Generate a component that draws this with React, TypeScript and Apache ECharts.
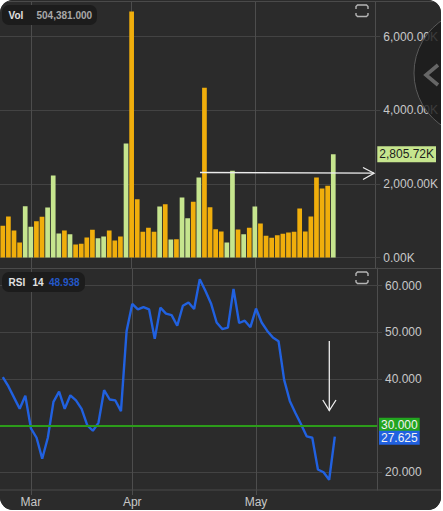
import React, { useEffect, useRef } from "react";
import * as echarts from "echarts";

const monthTicks: Record<number, string> = { 5: "Mar", 23: "Apr", 45: "May" };
const slotCount = 67;
const categories = Array.from({ length: slotCount }, (_, i) => monthTicks[i] ?? `d${i}`);
const volumes = [
  860, 1114, 733, 408, 1395, 833, 987, 1105, 1359, 2228,
  652, 733, 634, 353, 371, 543, 752, 525, 570, 733,
  462, 570, 3098, 6685, 1585, 697, 806, 697, 1386, 1449,
  489, 498, 1630, 1069, 1513, 2174, 4610, 1368, 770, 706,
  408, 2355, 761, 634, 806, 1386, 924, 589, 534, 607,
  643, 679, 697, 1331, 706, 1114, 2174, 1875, 1947, 2805.72,
];
const upBars = [4, 5, 8, 9, 10, 12, 17, 18, 22, 28, 30, 32, 33, 35, 40, 41, 43, 45, 59];
const rsi = [
  40.4, 38.4, 36, 33.6, 36.4, 29.4, 27.4, 22.9, 27.4, 35.1,
  37.3, 33.6, 36.5, 35.4, 33.6, 30.1, 28.9, 30.6, 37.6, 35.6,
  35.4, 33.1, 50.3, 56.1, 54.9, 55.4, 54.9, 48.6, 55.3, 54,
  53.7, 51.4, 55.7, 56.4, 55, 61.4, 58.9, 56.2, 52.1, 50.7,
  51, 59.3, 52, 52.5, 51.1, 55.1, 52.1, 50.3, 48.9, 48.1,
  39.8, 35.3, 32.7, 30.3, 27.7, 27.4, 20.6, 20, 18.4, 27.625,
];
const volTicks = [0, 2000, 4000, 6000];
const rsiTicks = [20, 40, 50, 60];
const rsiLevel = 30;
const lastVolume = 2805.72;
const lastRsi = 27.625;

const FONT = '"Liberation Sans", Arial, sans-serif';
const BG = "#2b2b2b";
const GRID = "#434343";
const VGRID = "#4d4d4d";
const ORANGE = "#f0ae0c";
const GREEN = "#c6e58e";
const BLUE = "#2161e0";
const CLEAR = "rgba(0,0,0,0)";
const LEVEL_GREEN = "#2c9c1a";

function fsIcon(x: number, y: number) {
  const lines = [
    [[x, y + 4], [x, y + 1.5], [x + 1.5, y], [x + 10.5, y], [x + 12, y + 1.5], [x + 12, y + 4]],
    [[x, y + 8], [x, y + 10], [x + 1.5, y + 11.5], [x + 10.5, y + 11.5], [x + 12, y + 10], [x + 12, y + 8]],
  ];
  return lines.map((points) => ({
    type: "polyline",
    z: 20,
    silent: true,
    shape: { points },
    style: { stroke: "#b5b5b5", lineWidth: 1.4, fill: "none" },
  }));
}

function line(x1: number, y1: number, x2: number, y2: number, stroke: string, lineWidth: number, z = 5) {
  return { type: "line", z, silent: true, shape: { x1, y1, x2, y2 }, style: { stroke, lineWidth } };
}
function arrowHead(points: number[][]) {
  return {
    type: "polyline",
    z: 30,
    silent: true,
    shape: { points },
    style: { stroke: "#ececec", lineWidth: 1.3, fill: "none" },
  };
}
function text(x: number, y: number, t: string, fill: string, bold = true, size = 10) {
  return {
    type: "text",
    z: 41,
    silent: true,
    x,
    y,
    style: {
      text: t,
      fill,
      font: `${bold ? "bold " : ""}${size}px ${FONT}`,
      verticalAlign: "middle",
    },
  };
}
function legendBox(x: number, y: number, width: number, height: number) {
  return {
    type: "rect",
    z: 40,
    silent: true,
    shape: { x, y, width, height, r: 7 },
    style: { fill: "#1c1c1c" },
  };
}

const xAxisBase = {
  type: "category" as const,
  data: categories,
  boundaryGap: true,
  axisLine: { show: false },
};
const isMonth = (i: number) => monthTicks[i] !== undefined;

export default function App() {
  const ref = useRef<HTMLDivElement>(null);
  useEffect(() => {
    if (!ref.current) return;
    const chart = echarts.init(ref.current, undefined, { renderer: "svg" });
    chart.setOption({
      animation: false,
      backgroundColor: BG,
      textStyle: { fontFamily: FONT },
      grid: [
        { left: 0, top: 1.5, width: 377, height: 266.5, containLabel: false },
        { left: 0, top: 268, width: 377, height: 222, containLabel: false },
      ],
      xAxis: [
        {
          ...xAxisBase,
          gridIndex: 0,
          axisTick: { show: false },
          axisLabel: { show: false },
          splitLine: {
            show: true,
            alignWithLabel: true,
            interval: (i: number) => isMonth(i),
            lineStyle: { color: VGRID, width: 1 },
          },
        },
        {
          ...xAxisBase,
          gridIndex: 1,
          axisTick: {
            show: true,
            alignWithLabel: true,
            length: 5,
            interval: (i: number) => isMonth(i),
            lineStyle: { color: VGRID },
          },
          axisLabel: {
            show: true,
            interval: (i: number) => isMonth(i),
            color: "#c8c8c8",
            fontSize: 12,
            margin: 6,
            fontFamily: FONT,
          },
          splitLine: {
            show: true,
            alignWithLabel: true,
            interval: (i: number) => isMonth(i),
            lineStyle: { color: VGRID, width: 1 },
          },
        },
      ],
      yAxis: [
        {
          type: "value",
          gridIndex: 0,
          position: "right",
          min: -285,
          max: 6957,
          axisLine: { show: true, lineStyle: { color: VGRID } },
          axisTick: { show: true, length: 5, customValues: volTicks, lineStyle: { color: GRID } },
          axisLabel: {
            customValues: volTicks,
            color: "#c8c8c8",
            fontSize: 12,
            margin: 8,
            fontFamily: FONT,
            formatter: (v: number) =>
              v.toLocaleString("en-US", { minimumFractionDigits: 2, maximumFractionDigits: 2 }) + "K",
          },
          splitLine: { show: true, lineStyle: { color: GRID, width: 1 } },
        },
        {
          type: "value",
          gridIndex: 1,
          position: "right",
          min: 16.2,
          max: 63.79,
          axisLine: { show: true, lineStyle: { color: VGRID } },
          axisTick: { show: true, length: 5, customValues: rsiTicks, lineStyle: { color: GRID } },
          axisLabel: {
            customValues: rsiTicks,
            color: "#c8c8c8",
            fontSize: 12,
            margin: 8,
            fontFamily: FONT,
            formatter: (v: number) => v.toFixed(3),
          },
          splitLine: { show: true, lineStyle: { color: GRID, width: 1 } },
        },
      ],
      series: [
        {
          type: "bar",
          name: "Vol",
          xAxisIndex: 0,
          yAxisIndex: 0,
          barWidth: 4.7,
          data: volumes.map((value, i) => ({
            value,
            itemStyle: { color: upBars.includes(i) ? GREEN : ORANGE },
          })),
          markLine: {
            silent: true,
            symbol: "none",
            lineStyle: { color: CLEAR, width: 1 },
            data: [
              {
                yAxis: lastVolume,
                label: {
                  show: true,
                  position: "end",
                  distance: 2,
                  formatter: () =>
                    lastVolume.toLocaleString("en-US", { minimumFractionDigits: 2 }) + "K",
                  color: "#1d1d1d",
                  backgroundColor: GREEN,
                  padding: [2, 2],
                  fontSize: 12,
                  fontFamily: FONT,
                },
              },
            ],
          },
        },
        {
          type: "line",
          name: "RSI",
          xAxisIndex: 1,
          yAxisIndex: 1,
          data: rsi,
          showSymbol: false,
          symbol: "none",
          lineStyle: { color: BLUE, width: 2.4 },
          z: 3,
          markLine: {
            silent: true,
            symbol: "none",
            z: 6,
            lineStyle: { color: CLEAR, width: 1, type: "solid" },
            data: [
              {
                yAxis: rsiLevel,
                label: {
                  show: true,
                  position: "end",
                  distance: 2,
                  offset: [0, -1],
                  formatter: () => rsiLevel.toFixed(3),
                  color: "#f2f2f2",
                  backgroundColor: "#22a51f",
                  padding: [1, 2],
                  fontSize: 12,
                  fontFamily: FONT,
                },
              },
            ],
          },
        },
        {
          type: "line",
          name: "RSI last",
          xAxisIndex: 1,
          yAxisIndex: 1,
          data: [],
          symbol: "none",
          markLine: {
            silent: true,
            symbol: "none",
            z: 7,
            lineStyle: { color: CLEAR, width: 1, type: "solid" },
            data: [
              {
                yAxis: lastRsi,
                label: {
                  show: true,
                  position: "end",
                  distance: 2,
                  offset: [0, 1],
                  formatter: () => lastRsi.toFixed(3),
                  color: "#f2f2f2",
                  backgroundColor: BLUE,
                  padding: [1, 2],
                  fontSize: 12,
                  fontFamily: FONT,
                },
              },
            ],
          },
        },
      ],
    });
    const levelY = Math.round(chart.convertToPixel({ yAxisIndex: 1 }, rsiLevel) as number);
    chart.setOption({
      graphic: [
        line(0, 1.5, 441, 1.5, "#4a4a4a", 1),
        line(0, 268.5, 441, 268.5, "#4a4a4a", 1),
        line(0, 490, 441, 490, "#4a4a4a", 1),
        // 30 level line, placed through the RSI axis
        line(0, levelY, 377, levelY, LEVEL_GREEN, 2, 6),
        // annotation arrows
        line(200, 172.5, 374, 173.2, "#ececec", 1.3, 30),
        arrowHead([[363, 167.5], [374, 173.2], [363, 179.5]]),
        line(329.3, 341, 329.3, 410.5, "#ececec", 1.3, 30),
        arrowHead([[322.8, 400], [329.3, 410.5], [336, 400]]),
        // expand handle
        {
          type: "circle",
          z: 35,
          silent: true,
          shape: { cx: 477.6, cy: 73, r: 63.6 },
          style: { fill: "rgba(28,28,28,0.82)", stroke: "#5a5a5a", lineWidth: 1 },
        },
        {
          type: "polyline",
          z: 36,
          silent: true,
          shape: { points: [[438, 65], [426, 75], [438, 85]] },
          style: { stroke: "#666666", lineWidth: 3.6, fill: "none" },
        },
        ...fsIcon(356, 5),
        ...fsIcon(356, 272),
        // legends
        legendBox(2, 5, 95, 20),
        text(8.5, 15, "Vol", "#e2e2e2"),
        text(36.5, 15, "504,381.000", "#a8a8a8"),
        legendBox(2, 272, 83, 20),
        text(8.5, 282.5, "RSI", "#e2e2e2"),
        text(32.5, 282.5, "14", "#e2e2e2"),
        text(49, 282.5, "48.938", "#2458c8"),
      ],
    });
    return () => chart.dispose();
  }, []);
  return (
    <div
      style={{
        position: "absolute",
        left: 0,
        top: 0,
        width: 441,
        height: 510,
        borderRadius: 13,
        overflow: "hidden",
        background: BG,
      }}
    >
      <div ref={ref} style={{ width: 441, height: 510 }} />
    </div>
  );
}
